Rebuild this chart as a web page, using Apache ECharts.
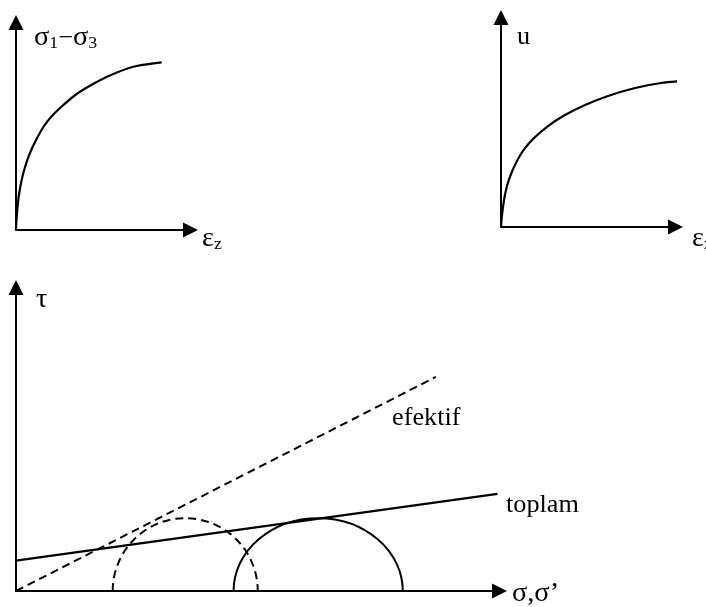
<!DOCTYPE html>
<html>
<head>
<meta charset="utf-8">
<script src="https://cdn.jsdelivr.net/npm/echarts@6/dist/echarts.min.js"></script>
<style>
  html, body { margin: 0; padding: 0; background: #fff; }
  #c { width: 706px; height: 607px; }
</style>
</head>
<body>
<div id="c"></div>
<script>
// Deviator stress (σ1−σ3) against axial strain εz
const strainA = [0, 0.034, 0.10, 0.21, 0.39, 0.62, 0.96, 1.38, 1.88, 2.41, 3.03, 4.17, 5.55, 6.93, 8.30, 10.02];
const deviatorStress = [0, 9.6, 21.2, 34.7, 48.2, 60.7, 74.2, 86.7, 99.3, 108.9, 117.6, 131.1, 142.7, 151.8, 158.1, 161.6];

// Excess pore pressure u against axial strain εz
const strainB = [0, 0.07, 0.21, 0.41, 0.69, 1.03, 1.51, 2.2, 3.23, 4.4, 5.78, 7.36, 9.22, 11.0, 12.52];
const porePressure = [0, 11.5, 25.8, 39.1, 50.6, 61.1, 72.6, 84.0, 96.4, 106.9, 116.5, 125.1, 132.7, 137.5, 139.4];

// Mohr half-circles at failure: [σ3, σ1, peak τ]
const effectiveCircle = [24, 60, 18];
const totalCircle = [54, 96, 18];

// Failure envelopes as [σ, τ] end points
const effectiveEnvelope = [[0, 0], [104.2, 52.9]];
const totalEnvelope = [[0, 7.5], [119.5, 24]];

const SERIF = '"Liberation Serif", "Times New Roman", serif';
const INK = '#000';

function axis(gridIndex, max) {
  return {
    type: 'value', gridIndex: gridIndex, min: 0, max: max,
    axisLine: {
      show: true, onZero: false,
      symbol: ['none', 'triangle'], symbolSize: [15, 15],
      lineStyle: { color: INK, width: 2 }
    },
    axisTick: { show: false },
    axisLabel: { show: false },
    splitLine: { show: false }
  };
}

// Upper half of a Mohr circle, from σ3 to σ1, reaching the peak τ
function mohrArc(dashed) {
  return function (params, api) {
    const left = api.coord([api.value(0), 0]);
    const right = api.coord([api.value(1), 0]);
    const ry = api.size([0, api.value(2)])[1];
    const rx = (right[0] - left[0]) / 2;
    return {
      type: 'path',
      shape: {
        pathData: 'M ' + left[0] + ' ' + left[1] + ' A ' + rx + ' ' + ry + ' 0 0 1 ' + right[0] + ' ' + right[1]
      },
      style: { fill: 'none', stroke: INK, lineWidth: 2, lineDash: dashed ? [8, 5] : null }
    };
  };
}

const rich = {
  g: { fontFamily: SERIF, fontSize: 27, color: INK },
  t: { fontFamily: SERIF, fontSize: 25, color: INK },
  s: { fontFamily: SERIF, fontSize: 17, color: INK, padding: [12, 0, 0, 0] }
};

function label(text, x, y) {
  return {
    type: 'text', x: x, y: y, scaleX: 1.05, silent: true,
    style: { text: text, rich: rich, fill: INK, font: '25px ' + SERIF, align: 'left', verticalAlign: 'middle' }
  };
}

function curve(xs, ys) {
  return xs.map(function (x, i) { return [x, ys[i]]; });
}

const lineStyle = { color: INK, width: 2.2 };

const chart = echarts.init(document.getElementById('c'));
chart.setOption({
  animation: false,
  backgroundColor: '#fff',
  grid: [
    { left: 16, top: 22.5, width: 174.5, height: 207.5 },
    { left: 501, top: 17.5, width: 174.5, height: 209.5 },
    { left: 16, top: 287.5, width: 483.5, height: 303.5 }
  ],
  xAxis: [axis(0, 12), axis(1, 12), axis(2, 120)],
  yAxis: [axis(0, 200), axis(1, 200), axis(2, 75)],
  series: [
    {
      type: 'line', xAxisIndex: 0, yAxisIndex: 0, data: curve(strainA, deviatorStress),
      smooth: 0.3, showSymbol: false, clip: false, silent: true, lineStyle: lineStyle
    },
    {
      type: 'line', xAxisIndex: 1, yAxisIndex: 1, data: curve(strainB, porePressure),
      smooth: 0.3, showSymbol: false, clip: false, silent: true, lineStyle: lineStyle
    },
    {
      type: 'line', xAxisIndex: 2, yAxisIndex: 2, data: effectiveEnvelope,
      showSymbol: false, clip: false, silent: true,
      lineStyle: { color: INK, width: 2, type: [8, 5] }
    },
    {
      type: 'line', xAxisIndex: 2, yAxisIndex: 2, data: totalEnvelope,
      showSymbol: false, clip: false, silent: true, lineStyle: lineStyle
    },
    {
      type: 'custom', xAxisIndex: 2, yAxisIndex: 2, data: [effectiveCircle],
      renderItem: mohrArc(true), silent: true, clip: false
    },
    {
      type: 'custom', xAxisIndex: 2, yAxisIndex: 2, data: [totalCircle],
      renderItem: mohrArc(false), silent: true, clip: false
    }
  ],
  graphic: {
    elements: [
      label('{g|σ}{s|1}{t|−}{g|σ}{s|3}', 34, 38),
      label('{g|ε}{s|z}', 202, 239),
      label('{t|u}', 517, 37),
      label('{g|ε}{s|z}', 692, 239),
      label('{g|τ}', 36, 300),
      label('{t|efektif}', 392, 418),
      label('{t|toplam}', 506, 505),
      label('{g|σ,σ’}', 512, 594)
    ]
  }
});
</script>
</body>
</html>
